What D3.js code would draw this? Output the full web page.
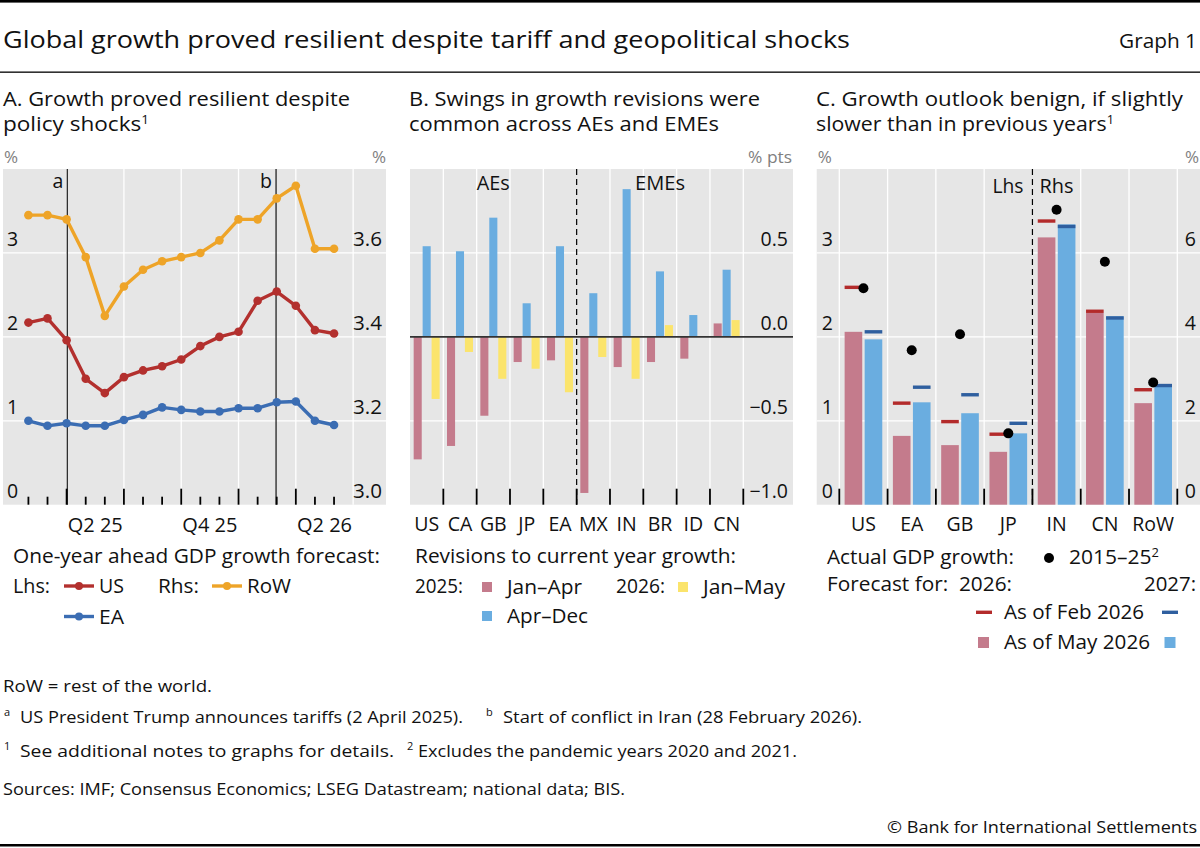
<!DOCTYPE html>
<html>
<head>
<meta charset="utf-8">
<script src="https://cdn.jsdelivr.net/npm/d3@7"></script>
<style>
  html, body { margin: 0; padding: 0; background: #fff; }
  svg { display: block; }
  text { font-family: 'Open Sans', 'Noto Sans', sans-serif; fill: #111; }
</style>
</head>
<body>
<script>
// ---------------- DATA ----------------
// Panel A: one-year-ahead GDP growth forecasts (monthly)
const forecastMonths = ["2025-02","2025-03","2025-04","2025-05","2025-06","2025-07","2025-08","2025-09",
  "2025-10","2025-11","2025-12","2026-01","2026-02","2026-03","2026-04","2026-05","2026-06"];
const usForecast  = [2.17,2.22,1.96,1.50,1.33,1.52,1.60,1.65,1.73,1.89,2.00,2.06,2.43,2.54,2.37,2.08,2.04];
const eaForecast  = [1.00,0.94,0.97,0.94,0.94,1.01,1.07,1.16,1.13,1.11,1.11,1.15,1.15,1.22,1.23,1.00,0.95];
const rowForecast = [3.69,3.69,3.68,3.59,3.45,3.52,3.56,3.58,3.59,3.60,3.63,3.68,3.68,3.73,3.76,3.61,3.61];
const eventDates  = ["2025-04-02","2026-02-28"];
const eventLabels = ["a","b"];
const quarterLabels = ["Q2 25","Q4 25","Q2 26"];
const aLeftTicks  = [0,1,2,3];
const aRightTicks = [3.0,3.2,3.4,3.6];

// Panel B: revisions to current-year growth (% pts)
const revCountries = ["US","CA","GB","JP","EA","MX","IN","BR","ID","CN"];
const revGroups    = ["AEs","EMEs"];
const revGroupOf   = ["AEs","AEs","AEs","AEs","AEs","EMEs","EMEs","EMEs","EMEs","EMEs"];
const rev2025JanApr = [-0.73,-0.65,-0.47,-0.15,-0.14,-0.93,-0.18,-0.15,-0.13,0.08];
const rev2025AprDec = [0.54,0.51,0.71,0.20,0.54,0.26,0.88,0.39,0.13,0.40];
const rev2026JanMay = [-0.37,-0.09,-0.25,-0.19,-0.33,-0.12,-0.25,0.07,0.00,0.10];
const bTicks = [-1.0,-0.5,0.0,0.5];

// Panel C: growth outlook
const outCountries = ["US","EA","GB","JP","IN","CN","RoW"];
const outSide      = ["Lhs","Lhs","Lhs","Lhs","Rhs","Rhs","Rhs"];
const f2026May = [2.06,0.82,0.71,0.63,6.37,4.57,2.42];
const f2027May = [1.97,1.22,1.09,0.85,6.68,4.49,2.87];
const f2026Feb = [2.59,1.21,0.99,0.84,6.76,4.61,2.74];
const f2027Feb = [2.06,1.40,1.31,0.97,6.63,4.45,2.84];
const actual1525 = [2.58,1.84,2.03,0.85,7.03,5.79,2.91];
const cLeftTicks  = [0,1,2,3];
const cRightTicks = [0,2,4,6];

// ---------------- STYLE ----------------
const COL = {
  bg: "#e6e6e6", grid: "#ffffff",
  us: "#b3302e", ea: "#3b6db3", row: "#eea428",
  pink: "#c47b8c", lblue: "#6aade0", yellow: "#fbe46c",
  dred: "#b32b2b", dblue: "#2f5f9f", unit: "#808080"
};
const W = 1200, H = 848;
const TOP = 169, BOT = 504.7;
const FS = 19.5;

const svg = d3.select("body").append("svg").attr("width", W).attr("height", H);

function txt(g, x, y, s, opt = {}) {
  const t = g.append("text").attr("x", x).attr("y", y).text(s)
    .attr("font-size", opt.size || FS)
    .attr("text-anchor", opt.anchor || "start");
  if (opt.fill) t.style("fill", opt.fill);
  if (opt.len) t.attr("textLength", opt.len).attr("lengthAdjust", "spacingAndGlyphs");
  return t;
}
function sup(t, s, size) {
  t.append("tspan").attr("dy", -7).attr("font-size", size || 12).text(s);
  return t;
}

// ---------------- HEADER ----------------
svg.append("rect").attr("x", 0).attr("y", 0).attr("width", W).attr("height", 2.6).attr("fill", "#000");
txt(svg, 3, 48, "Global growth proved resilient despite tariff and geopolitical shocks", {size: 24.5, len: 847});
txt(svg, 1197, 48, "Graph 1", {size: 20.5, anchor: "end", len: 78});
svg.append("rect").attr("x", 0).attr("y", 71.5).attr("width", W).attr("height", 1.3).attr("fill", "#000");

// subtitles
const SS = 20;
txt(svg, 3, 105.5, "A. Growth proved resilient despite", {size: SS, len: 347});
sup(txt(svg, 3, 131, "policy shocks", {size: SS, len: 146}), "1");
txt(svg, 409, 105.5, "B. Swings in growth revisions were", {size: SS, len: 351});
txt(svg, 409, 131, "common across AEs and EMEs", {size: SS, len: 310});
txt(svg, 816, 105.5, "C. Growth outlook benign, if slightly", {size: SS, len: 367});
sup(txt(svg, 816, 131, "slower than in previous years", {size: SS, len: 298}), "1");

// ---------------- PANEL A ----------------
(function () {
  const x0 = 3, x1 = 386;
  const g = svg.append("g");
  const monthIdx = s => { const [y, m] = s.split("-").map(Number); return (y - 2025) * 12 + (m - 1); };
  const dateIdx = s => {
    const [y, m, d] = s.split("-").map(Number);
    const dim = new Date(y, m, 0).getDate();
    return (y - 2025) * 12 + (m - 1) + (d - 1) / dim;
  };
  const xs = forecastMonths.map(monthIdx);
  const x = d3.scaleLinear().domain([-0.33, 19.72]).range([x0, x1]);
  const yL = d3.scaleLinear().domain([0, 4]).range([BOT, TOP]);
  const yR = d3.scaleLinear().domain([3.0, 3.8]).range([BOT, TOP]);

  g.append("rect").attr("x", x0).attr("y", TOP).attr("width", x1 - x0).attr("height", BOT - TOP).attr("fill", COL.bg);
  g.selectAll(".hg").data(aLeftTicks.filter(d => d > 0)).join("line")
    .attr("x1", x0).attr("x2", x1).attr("y1", d => yL(d)).attr("y2", d => yL(d))
    .attr("stroke", COL.grid).attr("stroke-width", 1.3);
  const quarterStarts = d3.range(3, 19, 3);
  g.selectAll(".vg").data(quarterStarts).join("line")
    .attr("x1", d => x(d)).attr("x2", d => x(d)).attr("y1", TOP).attr("y2", BOT)
    .attr("stroke", COL.grid).attr("stroke-width", 1.3);
  g.selectAll(".tk").data(xs).join("line")
    .attr("x1", d => x(d)).attr("x2", d => x(d))
    .attr("y1", BOT).attr("y2", d => BOT - (d % 3 === 0 ? 16 : 8))
    .attr("stroke", "#000").attr("stroke-width", 1.8);
  eventDates.forEach((s, i) => {
    const xe = x(dateIdx(s));
    g.append("line").attr("x1", xe).attr("x2", xe).attr("y1", TOP).attr("y2", BOT)
      .attr("stroke", "#000").attr("stroke-width", 1.1);
    txt(g, xe - 4, 188, eventLabels[i], {anchor: "end"});
  });
  aLeftTicks.forEach(v => txt(g, x0 + 4, yL(v) - 7, d3.format("d")(v)));
  aRightTicks.forEach(v => txt(g, x1 - 4, yR(v) - 7, d3.format(".1f")(v), {anchor: "end", len: 29}));
  txt(g, x0 + 1, 163, "%", {size: 17, fill: COL.unit});
  txt(g, x1, 163, "%", {size: 17, fill: COL.unit, anchor: "end"});
  quarterLabels.forEach(q => {
    const qn = +q[1], yy = 2000 + +q.slice(3);
    const c = (yy - 2025) * 12 + (qn - 1) * 3 + 1.5;
    txt(g, x(c), 532, q, {anchor: "middle", len: 55});
  });
  const series = [
    {v: rowForecast, y: yR, c: COL.row},
    {v: usForecast, y: yL, c: COL.us},
    {v: eaForecast, y: yL, c: COL.ea}
  ];
  series.forEach(s => {
    const line = d3.line().x((d, i) => x(xs[i])).y(d => s.y(d));
    g.append("path").attr("d", line(s.v)).attr("fill", "none").attr("stroke", s.c)
      .attr("stroke-width", 3.4).attr("stroke-linejoin", "round");
    g.selectAll(null).data(s.v).join("circle")
      .attr("cx", (d, i) => x(xs[i])).attr("cy", d => s.y(d)).attr("r", 4.3).attr("fill", s.c);
  });
  // legend
  txt(g, 13, 563, "One-year ahead GDP growth forecast:", {len: 367});
  txt(g, 13, 593, "Lhs:", {len: 37});
  txt(g, 158, 593, "Rhs:", {len: 41});
  const leg = [
    {x: 64, y: 586, c: COL.us, t: "US", w: 25},
    {x: 212, y: 586, c: COL.row, t: "RoW", w: 44},
    {x: 64, y: 616.5, c: COL.ea, t: "EA", w: 25}
  ];
  leg.forEach(l => {
    g.append("line").attr("x1", l.x).attr("x2", l.x + 30).attr("y1", l.y).attr("y2", l.y)
      .attr("stroke", l.c).attr("stroke-width", 3.4);
    g.append("circle").attr("cx", l.x + 15).attr("cy", l.y).attr("r", 4).attr("fill", l.c);
    txt(g, l.x + 35, l.y + 7, l.t, {len: l.w});
  });
})();

// ---------------- PANEL B ----------------
(function () {
  const x0 = 410, x1 = 793;
  const g = svg.append("g");
  const x = d3.scaleBand().domain(revCountries).range([x0, 743.3]).paddingInner(0.22).paddingOuter(0.11);
  const step = x.step();
  const bound = i => x.range()[0] + i * step;
  const keys = ["janApr", "aprDec", "janMay"];
  const x1s = d3.scaleBand().domain(keys).range([0, x.bandwidth()]).paddingInner(0.1);
  const y = d3.scaleLinear().domain([-1, 1]).range([BOT, TOP]);
  const colors = {janApr: COL.pink, aprDec: COL.lblue, janMay: COL.yellow};

  g.append("rect").attr("x", x0).attr("y", TOP).attr("width", x1 - x0).attr("height", BOT - TOP).attr("fill", COL.bg);
  g.selectAll(".hg").data(bTicks.filter(d => d !== 0 && d !== -1)).join("line")
    .attr("x1", x0).attr("x2", x1).attr("y1", d => y(d)).attr("y2", d => y(d))
    .attr("stroke", COL.grid).attr("stroke-width", 1.3);
  const divider = revGroupOf.indexOf("EMEs");
  const bounds = d3.range(1, revCountries.length + 1);
  g.selectAll(".vg").data(bounds.filter(i => i !== divider)).join("line")
    .attr("x1", d => bound(d)).attr("x2", d => bound(d)).attr("y1", TOP).attr("y2", BOT)
    .attr("stroke", COL.grid).attr("stroke-width", 1.3);

  const rows = revCountries.map((c, i) => ({c, janApr: rev2025JanApr[i], aprDec: rev2025AprDec[i], janMay: rev2026JanMay[i]}));
  rows.forEach(r => {
    keys.forEach(k => {
      const v = r[k];
      if (v === 0) return;
      g.append("rect").attr("x", x(r.c) + x1s(k)).attr("width", x1s.bandwidth())
        .attr("y", y(Math.max(0, v))).attr("height", Math.abs(y(v) - y(0)))
        .attr("fill", colors[k]);
    });
  });
  g.append("line").attr("x1", x0).attr("x2", x1).attr("y1", y(0)).attr("y2", y(0))
    .attr("stroke", "#333").attr("stroke-width", 1.6);
  g.append("line").attr("x1", bound(divider)).attr("x2", bound(divider)).attr("y1", TOP).attr("y2", BOT)
    .attr("stroke", "#000").attr("stroke-width", 1.2).attr("stroke-dasharray", "6,4");
  g.selectAll(".tk").data(bounds).join("line")
    .attr("x1", d => bound(d)).attr("x2", d => bound(d)).attr("y1", BOT).attr("y2", BOT - 16)
    .attr("stroke", "#000").attr("stroke-width", 1.8);
  bTicks.forEach(v => txt(g, 788, y(v) - 7, d3.format(".1f")(v), {anchor: "end"}));
  txt(g, 792, 163, "% pts", {size: 17, fill: COL.unit, anchor: "end", len: 44});
  revCountries.forEach(c => txt(g, x(c) + x.bandwidth() / 2, 531, c, {anchor: "middle"}));
  const groupW = {AEs: 33, EMEs: 50};
  revGroups.forEach(gr => {
    const idx = revGroupOf.map((d, i) => d === gr ? i : -1).filter(i => i >= 0);
    const cx = (bound(idx[0]) + bound(idx[idx.length - 1] + 1)) / 2;
    txt(g, cx, 190, gr, {anchor: "middle", len: groupW[gr]});
  });
  // legend
  txt(g, 415, 563, "Revisions to current year growth:", {len: 321});
  txt(g, 415, 593, "2025:", {len: 48});
  txt(g, 616, 593, "2026:", {len: 49});
  const leg = [
    {x: 482, y: 582, c: COL.pink, t: "Jan–Apr", w: 75},
    {x: 678, y: 582, c: COL.yellow, t: "Jan–May", w: 82},
    {x: 482, y: 611, c: COL.lblue, t: "Apr–Dec", w: 81}
  ];
  leg.forEach(l => {
    g.append("rect").attr("x", l.x).attr("y", l.y).attr("width", 10).attr("height", 10).attr("fill", l.c);
    txt(g, l.x + 25, l.y + 11.5, l.t, {len: l.w});
  });
})();

// ---------------- PANEL C ----------------
(function () {
  const x0 = 816.7, x1 = 1200;
  const g = svg.append("g");
  const x = d3.scaleBand().domain(outCountries).range([839.3, 1177.3]).paddingInner(0.22).paddingOuter(0.11);
  const step = x.step();
  const bound = i => x.range()[0] + i * step;
  const keys = ["y2026", "y2027"];
  const xs1 = d3.scaleBand().domain(keys).range([0, x.bandwidth()]).paddingInner(0.12);
  const yL = d3.scaleLinear().domain([0, 4]).range([BOT, TOP]);
  const yR = d3.scaleLinear().domain([0, 8]).range([BOT, TOP]);
  const ys = side => side === "Lhs" ? yL : yR;

  g.append("rect").attr("x", x0).attr("y", TOP).attr("width", x1 - x0).attr("height", BOT - TOP).attr("fill", COL.bg);
  g.selectAll(".hg").data(cLeftTicks.filter(d => d > 0)).join("line")
    .attr("x1", x0).attr("x2", x1).attr("y1", d => yL(d)).attr("y2", d => yL(d))
    .attr("stroke", COL.grid).attr("stroke-width", 1.3);
  const divider = outSide.indexOf("Rhs");
  const bounds = d3.range(0, outCountries.length + 1);
  g.selectAll(".vg").data(bounds.filter(i => i !== divider)).join("line")
    .attr("x1", d => bound(d)).attr("x2", d => bound(d)).attr("y1", TOP).attr("y2", BOT)
    .attr("stroke", COL.grid).attr("stroke-width", 1.3);

  const rows = outCountries.map((c, i) => ({
    c, side: outSide[i],
    bars: [{k: "y2026", v: f2026May[i], dash: f2026Feb[i], col: COL.pink, dcol: COL.dred},
           {k: "y2027", v: f2027May[i], dash: f2027Feb[i], col: COL.lblue, dcol: COL.dblue}],
    act: actual1525[i]
  }));
  rows.forEach(r => {
    const y = ys(r.side);
    r.bars.forEach(b => {
      g.append("rect").attr("x", x(r.c) + xs1(b.k)).attr("width", xs1.bandwidth())
        .attr("y", y(b.v)).attr("height", y(0) - y(b.v)).attr("fill", b.col);
    });
  });
  rows.forEach(r => {
    const y = ys(r.side);
    r.bars.forEach(b => {
      g.append("rect").attr("x", x(r.c) + xs1(b.k)).attr("width", xs1.bandwidth())
        .attr("y", y(b.dash) - 1.7).attr("height", 3.4).attr("fill", b.dcol);
    });
  });
  rows.forEach(r => {
    const y = ys(r.side);
    g.append("circle").attr("cx", x(r.c) + x.bandwidth() / 2).attr("cy", y(r.act)).attr("r", 5).attr("fill", "#000");
  });
  g.append("line").attr("x1", bound(divider)).attr("x2", bound(divider)).attr("y1", TOP).attr("y2", BOT)
    .attr("stroke", "#000").attr("stroke-width", 1.2).attr("stroke-dasharray", "6,4");
  txt(g, bound(divider) - 9, 193, "Lhs", {anchor: "end", len: 31});
  txt(g, bound(divider) + 7, 193, "Rhs", {len: 34});
  g.selectAll(".tk").data(bounds).join("line")
    .attr("x1", d => bound(d)).attr("x2", d => bound(d)).attr("y1", BOT).attr("y2", BOT - 16)
    .attr("stroke", "#000").attr("stroke-width", 1.8);
  cLeftTicks.forEach(v => txt(g, x0 + 5, yL(v) - 7, d3.format("d")(v)));
  cRightTicks.forEach(v => txt(g, 1196, yR(v) - 7, d3.format("d")(v), {anchor: "end"}));
  txt(g, x0 + 1, 163, "%", {size: 17, fill: COL.unit});
  txt(g, 1199, 163, "%", {size: 17, fill: COL.unit, anchor: "end"});
  outCountries.forEach(c => txt(g, x(c) + x.bandwidth() / 2, 531, c, {anchor: "middle"}));
  // legend
  txt(g, 827, 564, "Actual GDP growth:", {len: 187});
  g.append("circle").attr("cx", 1049).attr("cy", 558).attr("r", 5).attr("fill", "#000");
  sup(txt(g, 1069, 564, "2015–25", {len: 90}), "2");
  txt(g, 827, 591, "Forecast for:  2026:", {len: 185}).attr("xml:space", "preserve").style("white-space", "pre");
  txt(g, 1196, 591, "2027:", {anchor: "end", len: 52});
  g.append("rect").attr("x", 976).attr("y", 610.6).attr("width", 16).attr("height", 3.4).attr("fill", COL.dred);
  g.append("rect").attr("x", 1162).attr("y", 610.6).attr("width", 16).attr("height", 3.4).attr("fill", COL.dblue);
  txt(g, 1004, 619, "As of Feb 2026", {len: 140});
  g.append("rect").attr("x", 978).attr("y", 637).attr("width", 11).attr("height", 11).attr("fill", COL.pink);
  g.append("rect").attr("x", 1164.5).attr("y", 637).attr("width", 11).attr("height", 11).attr("fill", COL.lblue);
  txt(g, 1004, 649, "As of May 2026", {len: 146});
})();

// ---------------- FOOTER ----------------
const FN = 17;
txt(svg, 3, 692, "RoW = rest of the world.", {size: FN, len: 209});
txt(svg, 4, 716, "a", {size: 11});
txt(svg, 20, 723, "US President Trump announces tariffs (2 April 2025).", {size: FN, len: 443});
txt(svg, 486, 716, "b", {size: 11});
txt(svg, 503, 723, "Start of conflict in Iran (28 February 2026).", {size: FN, len: 359});
txt(svg, 4, 750, "1", {size: 11});
txt(svg, 20, 757, "See additional notes to graphs for details.", {size: FN, len: 374});
txt(svg, 407, 750, "2", {size: 11});
txt(svg, 418, 757, "Excludes the pandemic years 2020 and 2021.", {size: FN, len: 379});
txt(svg, 3, 795, "Sources: IMF; Consensus Economics; LSEG Datastream; national data; BIS.", {size: FN, len: 622});
txt(svg, 1197, 833, "© Bank for International Settlements", {size: FN, anchor: "end", len: 310});
svg.append("rect").attr("x", 0).attr("y", 844).attr("width", W).attr("height", 2.5).attr("fill", "#000");
</script>
</body>
</html>
